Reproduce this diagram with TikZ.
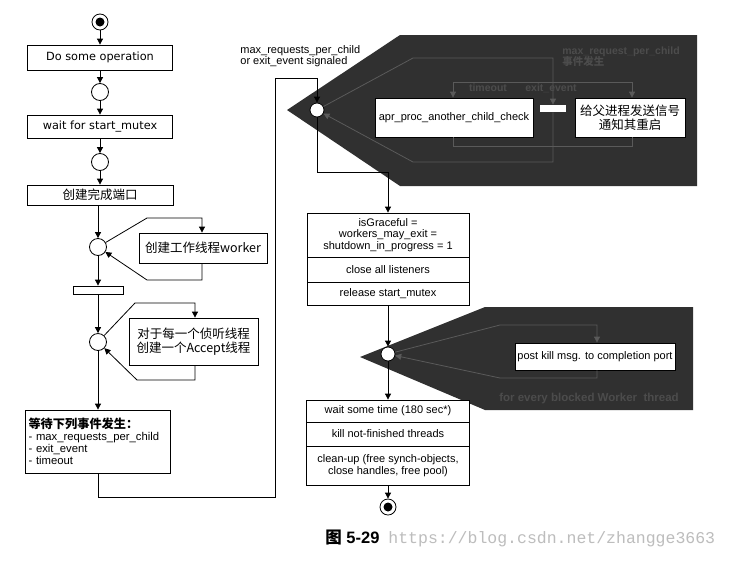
\documentclass[tikz,border=0pt]{standalone}
\usepackage{fontspec}
\setmainfont{Liberation Sans}
\newfontfamily\cjk{Noto Sans CJK SC}
\newfontfamily\dvs{DejaVu Sans}
\newfontfamily\monof{Liberation Mono}
\usetikzlibrary{arrows.meta}
\definecolor{dark}{HTML}{303030}
\definecolor{inline}{HTML}{5A5A5A}
\definecolor{intext}{HTML}{4C4C4C}
\definecolor{urlgray}{HTML}{BDBDBD}
\begin{document}
\begin{tikzpicture}[x=1pt,y=-1pt,
  line width=0.8pt,
  arr/.style={-{Triangle[length=6pt,width=6pt]}},
  abox/.style={draw, fill=white, inner sep=1pt, align=center},
  merge/.style={circle, draw, fill=white, minimum size=17pt, inner sep=0pt},
  wdot/.style={circle, draw, fill=white, minimum size=14pt, inner sep=0pt},
  dv/.style={font=\dvs\fontsize{11.3}{13}\selectfont},
  cj/.style={font=\cjk\fontsize{12.5}{14.5}\selectfont},
  ar/.style={font=\fontsize{11}{11.8}\selectfont},
  intxt/.style={text=intext, font=\bfseries\fontsize{10.5}{11.5}\selectfont},
  inl/.style={draw=inline},
]
\fill[white] (0,0) rectangle (730,560);
\useasboundingbox (0,0) rectangle (730,560);

% ---------- left column ----------
\node[merge, minimum size=16pt] (s0) at (100,22) {};
\fill (s0.center) circle (4.5pt);
\node[abox, dv, minimum width=145pt, minimum height=25pt] (b1) at (100,57.5) {Do some operation};
\node[merge] (c1) at (100,92) {};
\node[abox, dv, minimum width=145pt, minimum height=23pt] (b2) at (100,126.5) {wait for start\_mutex};
\node[merge] (c2) at (100,162) {};
\node[abox, cj, minimum width=146pt, minimum height=20pt] (b3) at (100,195) {创建完成端口};
\node[merge] (c3) at (98,247) {};
\node[abox, cj, minimum width=128pt, minimum height=30pt] (b4) at (203,248) {创建工作线程worker};
\node[draw, fill=white, inner sep=0pt, minimum width=50pt, minimum height=8pt] (bar1) at (98,290) {};
\node[merge] (c4) at (98,342) {};
\node[abox, cj, minimum width=129pt, minimum height=47pt] (b5) at (193.5,341.5) {对于每一个侦听线程\\创建一个Accept线程};
\node[draw, fill=white, inner sep=3pt, text width=139pt, minimum height=63pt, align=left,
      font=\fontsize{11.3}{12}\selectfont] (b6) at (98,441.5)
  {{\cjk\bfseries\fontsize{12.2}{14}\selectfont 等待下列事件发生：}\\- max\_requests\_per\_child\\- exit\_event\\- timeout};

\draw[arr] (s0) -- (b1);
\draw[arr] (b1) -- (c1);
\draw[arr] (c1) -- (b2);
\draw[arr] (b2) -- (c2);
\draw[arr] (c2) -- (c2 |- b3.north);
\draw[arr] (c3 |- b3.south) -- (c3);
\draw[arr] (c3) -- (bar1);
\draw[arr] (bar1) -- (c4);
\draw[arr] (c4) -- (b6);

\coordinate (l1a) at (147,218);
\coordinate (l1b) at (202,218);
\coordinate (l1c) at (202,280);
\coordinate (l1d) at (147,280);
\draw[arr] (c3) -- (l1a) -- (l1b) -- (l1b |- b4.north);
\draw[arr] (l1b |- b4.south) -- (l1c) -- (l1d) -- (c3);

\coordinate (l2a) at (135,303);
\coordinate (l2b) at (195,303);
\coordinate (l2c) at (195,380);
\coordinate (l2d) at (137,380);
\draw[arr] (c4) -- (l2a) -- (l2b) -- (l2b |- b5.north);
\draw[arr] (l2b |- b5.south) -- (l2c) -- (l2d) -- (c4);

% ---------- upper expansion region ----------
\fill[dark] (287,110) -- (400,35) -- (697,35) -- (697,186) -- (400,186) -- cycle;
\node[wdot] (P1) at (317,110) {};
\node[fill=white, inner sep=0pt, minimum width=26pt, minimum height=7pt] (bar2) at (553,108.5) {};
\node[abox, ar, minimum width=158pt, minimum height=39pt] (apr) at (454,117.5) {apr\_proc\_another\_child\_check};
\node[abox, font=\cjk\fontsize{12.5}{13.5}\selectfont, minimum width=110pt, minimum height=39pt] (gf) at (630,117.5) {给父进程发送信号\\通知其重启};

\coordinate (o1) at (413,58);
\coordinate (o2) at (553,58);
\coordinate (o3) at (553,162);
\coordinate (o4) at (413,162);
\draw[inl, arr] (P1) -- (o1) -- (o2) -- (bar2);
\draw[inl, arr] (bar2) -- (o3) -- (o4) -- (P1);

\coordinate (i1) at (453,82);
\coordinate (i2) at (632,82);
\coordinate (i3) at (453,146);
\coordinate (i4) at (632,146);
\draw[inl] (i1) -- (i2);
\draw[inl, arr] (i1) -- (i1 |- apr.north);
\draw[inl, arr] (i2) -- (i2 |- gf.north);
\draw[inl] (i1 |- apr.south) -- (i3) -- (i4) -- (i4 |- gf.south);

\node[intxt] (lto) at (488,88) {timeout};
\node[intxt] (lee) at (551,88) {exit\_event};
\node[intxt, align=left, anchor=north west, inner sep=0pt] (lmr) at (562,46) {max\_request\_per\_child\\{\cjk 事件发生}};

\node[ar, align=left, anchor=north west, inner sep=0pt, font=\fontsize{11}{10.8}\selectfont] (lmx) at (240,45) {max\_requests\_per\_child\\or exit\_event signaled};

% loop from wait box back to region
\coordinate (q1) at (98,497);
\coordinate (q2) at (275,497);
\coordinate (q3) at (275,78);
\coordinate (q4) at (317,78);
\draw[arr] (b6.south) -- (q1) -- (q2) -- (q3) -- (q4) -- (P1);

% ---------- right column ----------
\node[abox, ar, minimum width=162pt, minimum height=44pt] (ig1) at (388,235) {isGraceful =\\workers\_may\_exit =\\shutdown\_in\_progress = 1};
\node[abox, ar, minimum width=162pt, minimum height=25pt] (ig2) at (388,269.5) {close all listeners};
\node[abox, ar, minimum width=162pt, minimum height=23pt] (ig3) at (388,293.5) {release start\_mutex};

\coordinate (d1) at (317,172);
\coordinate (d2) at (388,172);
\draw[arr] (P1) -- (d1) -- (d2) -- (ig1);

% ---------- lower expansion region ----------
\fill[dark] (360,357) -- (485,307) -- (693,307) -- (693,410) -- (485,410) -- cycle;
\node[wdot] (P2) at (388,354) {};
\node[abox, ar, minimum width=160pt, minimum height=27pt] (pk) at (595,356.5) {post kill msg. to completion port};
\coordinate (k1) at (500,325);
\coordinate (k2) at (597,325);
\coordinate (k3) at (597,378);
\coordinate (k4) at (500,378);
\draw[inl, arr] (P2) -- (k1) -- (k2) -- (k2 |- pk.north);
\draw[inl, arr] (k2 |- pk.south) -- (k3) -- (k4) -- (P2);
\node[intxt, font=\bfseries\fontsize{11.5}{12}\selectfont] (lfe) at (589,399) {for every blocked Worker\ \ thread};

\draw[arr] (ig3) -- (P2);

\node[abox, ar, minimum width=163pt, minimum height=22pt] (ws1) at (388,411) {wait some time (180 sec*)};
\node[abox, ar, minimum width=163pt, minimum height=24pt] (ws2) at (388,434) {kill not-finished threads};
\node[abox, ar, minimum width=163pt, minimum height=39pt] (ws3) at (388,465.5) {clean-up (free synch-objects,\\close handles, free pool)};
\draw[arr] (P2) -- (ws1);

\node[merge, minimum size=16pt] (e0) at (388,507) {};
\fill (e0.center) circle (4.5pt);
\draw[arr] (ws3) -- (e0);

% ---------- caption ----------
\node[font=\bfseries\fontsize{16.5}{18}\selectfont, anchor=base west, inner sep=0pt] (cap) at (325,543) {{\cjk 图} 5-29};
\node[font=\monof\fontsize{16.5}{18}\selectfont, text=urlgray, anchor=base west, inner sep=0pt] (url) at (388,543) {https://blog.csdn.net/zhangge3663};
\end{tikzpicture}
\end{document}
